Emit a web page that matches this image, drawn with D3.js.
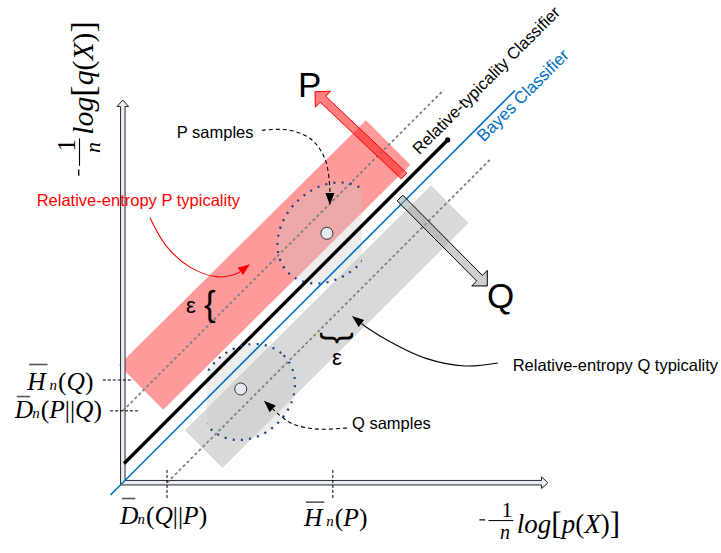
<!DOCTYPE html>
<html>
<head>
<meta charset="utf-8">
<script src="https://cdn.jsdelivr.net/npm/d3@7"></script>
<style>
  body { margin: 0; background: #fff; }
  svg { display: block; }
</style>
</head>
<body>
<script>
// diagram units: x 0..100, y 0..90 (same scale on both, so the classifiers sit at 45 deg)
const bayesLine = [[-2.9, -2.9], [92.2, 92.2]];
const typicalityLine = [[0.3, 4.5], [76.4, 80.6]];
const pCentreLine = [[0, 16.9], [75.5, 92.4]];
const qCentreLine = [[10.4, 0], [86.3, 75.9]];

const yTickValues = [24.15, 16.9];
const xTickValues = [10.4, 49.4];
const tickLabels = [
  { main: "H", args: ["Q"], at: [-22.5, 21.8] },
  { main: "D", args: ["P", "Q"], at: [-25.4, 15.2] },
  { main: "D", args: ["Q", "P"], at: [-0.66, -9.6] },
  { main: "H", args: ["P"], at: [42.6, -10.1] }
];

const pBand = { from: [4.3, 22.4], to: [62.4, 80.0], width: 14.8 };
const qBand = { from: [19.0, 7.9], to: [76.9, 65.5], width: 12.5 };

const pSamples = { centre: [48.26, 58.72], along: 13.2, across: 10.4, cut: -0.8, dot: [48.0, 58.65] };
const qSamples = { centre: [29.21, 21.33], along: 12.2, across: 10.3, cut: 5.4, dot: [27.73, 22.04] };

const pShift = { tail: [66.14, 72.13], tip: [45.2, 91.96] };
const qShift = { tail: [65.19, 66.95], tip: [85.72, 46.26] };

const pSamplesPointer = [[32.7, 82.9], [39.3, 82.9], [44.5, 80.6], [47.6, 76.0], [48.7, 69.3], [48.7, 65.3]];
const qSamplesPointer = [[52.7, 12.9], [45.9, 12.6], [40.0, 13.8], [36.5, 16.2], [33.2, 19.3]];
const qTypicalityPointer = [[88.2, 28.15], [80.5, 27.45], [71.1, 29.3], [63.3, 32.9], [57.2, 36.6], [53.9, 39.2]];
const pTypicalityPointer = [[6.4, 62.3], [10.2, 55.7], [15.8, 50.7], [22.4, 48.4], [27.1, 49.3], [29.9, 51.4]];

const notes = [
  { text: "P samples", at: [12.7, 81.07] },
  { text: "Relative-entropy P typicality", at: [-20.25, 65.15] },
  { text: "Relative-entropy Q typicality", at: [91.7, 26.34] },
  { text: "Q samples", at: [53.9, 12.63] }
];
const classifierNames = [
  { text: "Relative-typicality Classifier", at: [69.7, 77.0] },
  { text: "Bayes Classifier", at: [84.9, 80.0] }
];
const bigLetters = [{ text: "P", at: [41.2, 90.7] }, { text: "Q", at: [85.65, 41.1] }];

const W = 721, H = 553;
const sans = "'Liberation Sans', Arial, sans-serif";
const serif = "'Liberation Serif', 'Times New Roman', serif";

const svg = d3.select("body").append("svg").attr("width", W).attr("height", H);
const x = d3.scaleLinear().domain([0, 100]).range([122.8, 548]);
const y = d3.scaleLinear().domain([0, 90]).range([482.7, 100]);
const px = p => [x(p[0]), y(p[1])];
const len = u => x(u) - x(0);

function bandPolygon(b) {
  const a = px(b.from), c = px(b.to);
  const l = Math.hypot(c[0] - a[0], c[1] - a[1]);
  const nx = -(c[1] - a[1]) / l, ny = (c[0] - a[0]) / l;
  const h = len(b.width) / 2;
  return [[a[0] + nx * h, a[1] + ny * h], [c[0] + nx * h, c[1] + ny * h],
          [c[0] - nx * h, c[1] - ny * h], [a[0] - nx * h, a[1] - ny * h]];
}

function blockArrow(tail, tip, shaft, headW, headL) {
  const dx = tip[0] - tail[0], dy = tip[1] - tail[1];
  const l = Math.hypot(dx, dy);
  const ux = dx / l, uy = dy / l, nx = -uy, ny = ux;
  const bx = tip[0] - ux * headL, by = tip[1] - uy * headL;
  return [
    [tail[0] + nx * shaft / 2, tail[1] + ny * shaft / 2],
    [bx + nx * shaft / 2, by + ny * shaft / 2],
    [bx + nx * headW / 2, by + ny * headW / 2],
    tip,
    [bx - nx * headW / 2, by - ny * headW / 2],
    [bx - nx * shaft / 2, by - ny * shaft / 2],
    [tail[0] - nx * shaft / 2, tail[1] - ny * shaft / 2]
  ];
}

// bands
svg.append("polygon").attr("points", bandPolygon(qBand).join(" ")).attr("fill", "#d9d9d9");
svg.append("polygon").attr("points", bandPolygon(pBand).join(" ")).attr("fill", "#ff9a9a");

// sample clouds, flattened where they meet the classifiers
const defs = svg.append("defs");
function halfPlane(id, cut, above) {
  const far = above ? 300 : -200;
  const pts = [[-50, -50 + cut], [150, 150 + cut], [150, far], [-50, far]].map(px);
  defs.append("clipPath").attr("id", id).append("polygon").attr("points", pts.join(" "));
}
halfPlane("clipP", pSamples.cut, true);
halfPlane("clipQ", qSamples.cut, false);

function cloud(s, clip, layer) {
  const c = px(s.centre);
  return layer.append("ellipse")
    .attr("cx", c[0]).attr("cy", c[1])
    .attr("rx", len(s.along)).attr("ry", len(s.across))
    .attr("transform", `rotate(-45 ${c[0]} ${c[1]})`)
    .attr("clip-path", `url(#${clip})`);
}
cloud(pSamples, "clipP", svg).attr("fill", "rgba(200,200,200,0.32)");
cloud(qSamples, "clipQ", svg).attr("fill", "rgba(200,200,200,0.32)");

// axes (double-line arrows)
{
  const x0 = x(0), y0 = y(0), xe = x(100), ye = y(90), hw = 2.25, aw = 5.8, al = 6.5;
  const pts = [
    [x0 - hw, y0 + hw], [xe - al, y0 + hw], [xe - al, y0 + aw], [xe, y0], [xe - al, y0 - aw],
    [xe - al, y0 - hw], [x0 + hw, y0 - hw], [x0 + hw, ye + al], [x0 + aw, ye + al], [x0, ye],
    [x0 - aw, ye + al], [x0 - hw, ye + al]
  ];
  svg.append("polygon").attr("points", pts.join(" "))
    .attr("fill", "#e8edf5").attr("stroke", "#2a2a2a").attr("stroke-width", 1);
}

const line = d3.line().x(d => x(d[0])).y(d => y(d[1]));

// centre lines of the typical sets
[pCentreLine, qCentreLine].forEach(l => {
  svg.append("path").attr("d", line(l)).attr("fill", "none")
    .attr("stroke", "#7f7f7f").attr("stroke-width", 1.8).attr("stroke-dasharray", "3,2.6");
});

// classifiers
svg.append("path").attr("d", line(bayesLine)).attr("fill", "none")
  .attr("stroke", "#0070c0").attr("stroke-width", 1.6);
svg.append("path").attr("d", line(typicalityLine)).attr("fill", "none")
  .attr("stroke", "#000").attr("stroke-width", 3.4);
svg.append("circle").attr("cx", x(typicalityLine[1][0])).attr("cy", y(typicalityLine[1][1]))
  .attr("r", 2.6).attr("fill", "#000");

// dotted outlines of the sample clouds
[[pSamples, "clipP"], [qSamples, "clipQ"]].forEach(([s, c]) => {
  cloud(s, c, svg).attr("fill", "none").attr("stroke", "#1f3c7a")
    .attr("stroke-width", 2.2).attr("stroke-dasharray", "2,6.2");
});
[pSamples, qSamples].forEach(s => {
  svg.append("circle").attr("cx", x(s.dot[0])).attr("cy", y(s.dot[1])).attr("r", 6)
    .attr("fill", "#e4e9f2").attr("stroke", "#333").attr("stroke-width", 1);
});

// dashed ticks
yTickValues.forEach((v, i) => {
  const ext = i === 0 ? [-4.7, 2.4] : [-3.0, 3.6];
  svg.append("line").attr("x1", x(ext[0])).attr("x2", x(ext[1])).attr("y1", y(v)).attr("y2", y(v))
    .attr("stroke", "#000").attr("stroke-width", 1).attr("stroke-dasharray", "3,2");
});
xTickValues.forEach(v => {
  svg.append("line").attr("x1", x(v)).attr("x2", x(v)).attr("y1", y(3.0)).attr("y2", y(-3.6))
    .attr("stroke", "#000").attr("stroke-width", 1).attr("stroke-dasharray", "3,2");
});

// P / Q shift arrows
svg.append("polygon").attr("points", blockArrow(px(pShift.tail), px(pShift.tip), 8, 22, 11).join(" "))
  .attr("fill", "rgba(255,40,40,0.6)").attr("stroke", "#ff0000").attr("stroke-width", 1);
svg.append("polygon").attr("points", blockArrow(px(qShift.tail), px(qShift.tip), 8, 22, 11).join(" "))
  .attr("fill", "rgba(165,165,165,0.55)").attr("stroke", "#000").attr("stroke-width", 1);

// curved pointers
function pointer(pts, colour, dashed) {
  const p = pts.map(px);
  const tip = p[p.length - 1], prev = p[p.length - 2];
  const l = Math.hypot(tip[0] - prev[0], tip[1] - prev[1]);
  const ux = (tip[0] - prev[0]) / l, uy = (tip[1] - prev[1]) / l;
  const hl = 12, hw = 9;
  const base = [tip[0] - ux * hl, tip[1] - uy * hl];
  const body = p.slice(0, -1).concat([base]);
  svg.append("path").attr("d", d3.line().curve(d3.curveCatmullRom)(body))
    .attr("fill", "none").attr("stroke", colour).attr("stroke-width", 1.1)
    .attr("stroke-dasharray", dashed ? "4,3" : null);
  svg.append("polygon").attr("points", [
    tip, [base[0] - uy * hw / 2, base[1] + ux * hw / 2], [base[0] + uy * hw / 2, base[1] - ux * hw / 2]
  ].join(" ")).attr("fill", colour);
}
pointer(pSamplesPointer, "#000", true);
pointer(qSamplesPointer, "#000", true);
pointer(qTypicalityPointer, "#000", false);
pointer(pTypicalityPointer, "#ff0000", false);

// text
notes.forEach((n, i) => {
  svg.append("text").attr("x", x(n.at[0])).attr("y", y(n.at[1]))
    .attr("font-family", sans).attr("font-size", 16.5)
    .attr("fill", i === 1 ? "#ff0000" : "#000").text(n.text);
});
classifierNames.forEach((n, i) => {
  svg.append("text").attr("transform", `translate(${x(n.at[0])},${y(n.at[1])}) rotate(-45)`)
    .attr("font-family", sans).attr("font-size", i === 0 ? 16.5 : 17)
    .attr("fill", i === 0 ? "#000" : "#0070c0").text(n.text);
});
bigLetters.forEach(b => {
  svg.append("text").attr("x", x(b.at[0])).attr("y", y(b.at[1]))
    .attr("font-family", sans).attr("font-size", 35).text(b.text);
});

// epsilon widths
svg.append("text").attr("x", x(14.87)).attr("y", y(39.9)).attr("font-family", sans)
  .attr("font-size", 22).text("ε");
svg.append("text").attr("x", x(19.1)).attr("y", y(39.3)).attr("font-family", sans)
  .attr("font-size", 35).text("{");
svg.append("text").attr("transform", `translate(${x(49.67)},${y(34.03)}) rotate(-90)`)
  .attr("font-family", sans).attr("font-size", 35).attr("text-anchor", "middle")
  .attr("dominant-baseline", "central").text("{");
svg.append("text").attr("x", x(49.2)).attr("y", y(27.7)).attr("font-family", sans)
  .attr("font-size", 22).text("ε");

// serif maths
function mathRun(g, x0, y0, parts) {
  let cx = x0;
  return parts.map(p => {
    const t = g.append("text").attr("x", cx + (p.dx || 0)).attr("y", y0 + (p.dy || 0))
      .attr("font-family", serif).attr("font-size", p.size)
      .attr("font-style", p.it ? "italic" : "normal").text(p.t);
    const w = t.node().getComputedTextLength();
    const out = { x: cx + (p.dx || 0), w: w };
    cx = out.x + w;
    return out;
  });
}

const overlineLift = [25.5, 21.5, 25, 23.5];
tickLabels.forEach((lab, i) => {
  const fs = 25.5;
  const parts = [
    { t: lab.main, it: true, size: fs },
    { t: "n", it: true, size: 15, dx: lab.main === "H" ? 4 : -1 },
    { t: "(", size: fs, dx: 1 }
  ];
  lab.args.forEach((a, k) => {
    if (k > 0) parts.push({ t: "||", size: fs });
    parts.push({ t: a, it: true, size: fs });
  });
  parts.push({ t: ")", size: fs });
  const x0 = x(lab.at[0]), y0 = y(lab.at[1]);
  const placed = mathRun(svg, x0, y0, parts);
  const f = lab.main === "H" ? 1 : 0.72;
  const ly = y0 - overlineLift[i];
  svg.append("line").attr("x1", placed[0].x + 2).attr("x2", placed[0].x + 2 + placed[0].w * f)
    .attr("y1", ly).attr("y2", ly).attr("stroke", "#555").attr("stroke-width", 1.6);
});

function axisTitle(g, variable) {
  g.append("line").attr("x1", 0.3).attr("x2", 6).attr("y1", -13).attr("y2", -13)
    .attr("stroke", "#000").attr("stroke-width", 1.2);
  g.append("text").attr("x", 28).attr("y", -16).attr("text-anchor", "middle")
    .attr("font-family", serif).attr("font-size", 22).text("1");
  g.append("line").attr("x1", 9.3).attr("x2", 34.3).attr("y1", -12.3).attr("y2", -12.3)
    .attr("stroke", "#000").attr("stroke-width", 1);
  g.append("text").attr("x", 26).attr("y", 6.5).attr("text-anchor", "middle")
    .attr("font-family", serif).attr("font-style", "italic").attr("font-size", 20).text("n");
  mathRun(g, 37.7, 0, [
    { t: "log", it: true, size: 27 },
    { t: "[", size: 31, dy: 1 },
    { t: variable, it: true, size: 27 },
    { t: "(", size: 27 },
    { t: "X", it: true, size: 27 },
    { t: ")", size: 27 },
    { t: "]", size: 31, dy: 1 }
  ]);
}
axisTitle(svg.append("g").attr("transform", `translate(${x(83.8)},${y(-11.8)})`), "p");
axisTitle(svg.append("g").attr("transform", `translate(${x(-7.0)},${y(72.1)}) rotate(-90) scale(1.1)`), "q");
</script>
</body>
</html>
